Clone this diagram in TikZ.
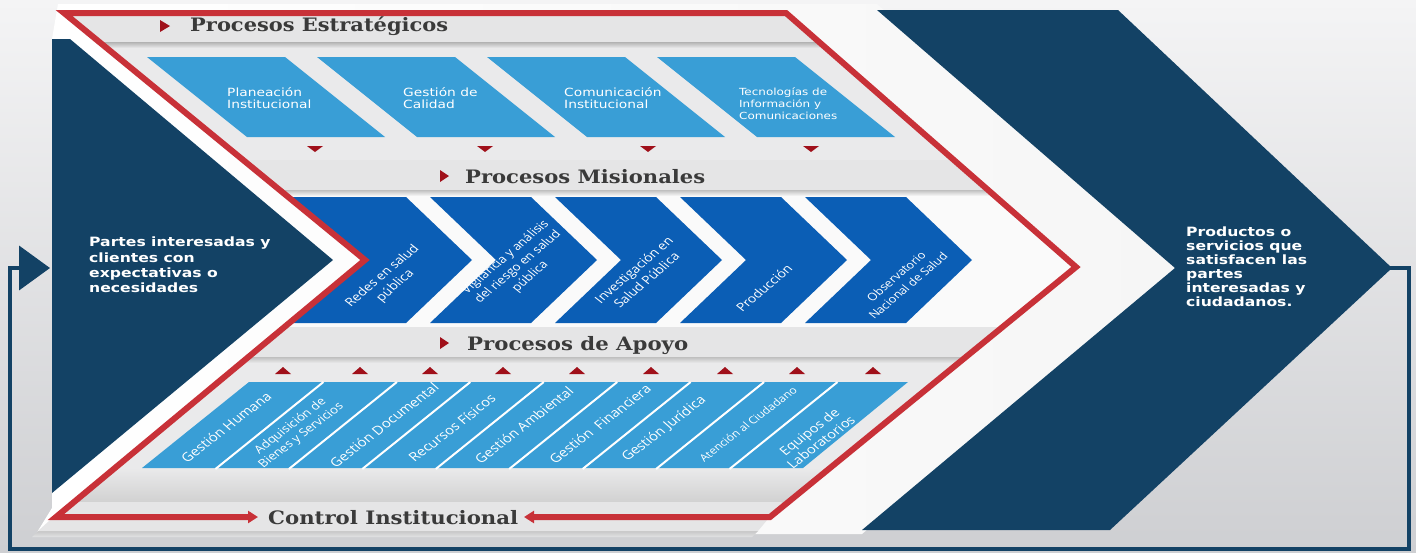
\documentclass[tikz,border=0pt]{standalone}
\usepackage{fontspec}
\setmainfont{DejaVu Sans}
\newfontfamily\hdrfont{DejaVu Serif}
\newfontfamily\segfont{Open Sans}
\usetikzlibrary{arrows.meta}
\definecolor{bgtop}{RGB}{244,244,245}
\definecolor{bgbot}{RGB}{206,207,210}
\definecolor{innerc}{RGB}{234,234,235}
\definecolor{barg}{RGB}{229,229,230}
\definecolor{htxt}{RGB}{58,58,58}
\definecolor{navy}{RGB}{19,66,101}
\definecolor{lblue}{RGB}{57,158,214}
\definecolor{mblue}{RGB}{11,94,181}
\definecolor{rline}{RGB}{200,49,56}
\definecolor{dred}{RGB}{160,16,26}
\newcommand{\wide}[2][1.22]{\scalebox{#1}[1]{\begin{tabular}{@{}l@{}}#2\end{tabular}}}
\newcommand{\hw}[2]{\resizebox{#1}{\height}{#2}}
\tikzset{
  redline/.style={draw=rline, line width=6pt, line join=miter},
  fbline/.style={draw=navy, line width=4pt, line join=miter},
  hdr/.style={inner sep=0, text=htxt, anchor=base west, font=\hdrfont\bfseries\fontsize{18.5}{20}\selectfont},
  stxt/.style={inner sep=0, text=white, anchor=west, font=\fontsize{11.3}{12}\selectfont},
  mtxt/.style={inner sep=0, text=white, align=center, rotate=46, transform shape, font=\segfont\fontsize{11.5}{14.5}\selectfont},
  atxt/.style={inner sep=0, text=white, align=center, rotate=43, transform shape, font=\segfont\fontsize{12.2}{13.5}\selectfont},
  bigtxt/.style={inner sep=0, text=white, anchor=north west},
  marker/.style={fill=dred},
}
\begin{document}
\begin{tikzpicture}[x=1pt,y=-1pt]
\useasboundingbox (0,0) rectangle (1416,552);
% background
\shade[top color=bgtop, bottom color=bgbot] (0,0) rectangle (1416,552);
% central light band
\shade[left color=white, right color=white!93!gray] (58,4) -- (877,4) -- (1175,268) -- (862,534) -- (36,534) -- (52,508) -- (52,39) -- cycle;
% big dark chevrons
\fill[navy] (52,39) -- (70,39) -- (333,260) -- (52,493) -- cycle;
\fill[navy] (877,10) -- (1118,10) -- (1392,268) -- (1110,530) -- (862,530) -- (1175,268) -- cycle;
% red outline corners
\coordinate (r1) at (64,13);
\coordinate (r2) at (786,13);
\coordinate (r3) at (1076,267);
\coordinate (r4) at (770,517);
\coordinate (r5) at (56,517);
\coordinate (r6) at (365,260);
\coordinate (ca) at (258,517);
\coordinate (cb) at (524,517);
\fill[innerc] (r1) -- (r2) -- (r3) -- (r4) -- (r5) -- (r6) -- cycle;
\begin{scope}
  \clip (r1) -- (r2) -- (r3) -- (r4) -- (r5) -- (r6) -- cycle;
  \fill[white!96!gray] (0,190) rectangle (1100,328);
  \shade[top color=black!30, bottom color=innerc] (0,42) rectangle (1100,48);
  \fill[barg] (0,15) rectangle (1100,42);
  \shade[top color=black!25, bottom color=white!96!gray] (0,190) rectangle (1100,196);
  \fill[barg] (0,160) rectangle (1100,190);
  \shade[top color=black!25, bottom color=innerc] (0,357) rectangle (1100,363);
  \fill[barg] (0,327) rectangle (1100,357);
  \shade[top color=innerc, bottom color=black!18] (0,468) rectangle (1100,502);
\end{scope}
% strategic boxes
\foreach \i in {0,...,3}
  \fill[lblue] ({147+170*\i},57) -- ++(138,0) -- ++(100,80) -- ++(-138,0) -- cycle;
\foreach \x in {315,485,648,811}
  \fill[marker] ({\x-8},146) -- ({\x+8},146) -- (\x,152) -- cycle;
% misional chevrons
\fill[mblue] (290,197) -- (406,197) -- (472,260) -- (406,323) -- (292,323) -- (368,260) -- cycle;
\foreach \a in {430,555,680,805}
  \fill[mblue] (\a,197) -- ++(101,0) -- ++(66,63) -- ++(-66,63) -- ++(-101,0) -- ++(66,-63) -- cycle;
% support band
\fill[lblue] (142,468) -- (249,382) -- (908,382) -- (803,468) -- cycle;
\foreach \i in {1,...,8}
  \draw[white, line width=2pt] ({142+73.44*\i},469) -- ++(108,-87);
\foreach \x in {283,360,430,503,577,651,725,797,873}
  \fill[marker] ({\x-8},374) -- ({\x+8},374) -- (\x,367) -- cycle;
% control bar
\shade[top color=black!22, bottom color=bgbot!60!white] (38,531) -- (758,531) -- (752,537) -- (32,537) -- cycle;
\fill[barg] (38,531) -- (70,502) -- (782,502) -- (758,531) -- cycle;
% header markers
\fill[marker] (160,20) -- (170,26) -- (160,32) -- cycle;
\fill[marker] (440,170) -- (449,176) -- (440,182) -- cycle;
\fill[marker] (440,337) -- (449,343) -- (440,349) -- cycle;
% red outline
\draw[redline, {Triangle[length=10pt,width=12pt]}-{Triangle[length=10pt,width=12pt]}]
  (ca) -- (r5) -- (r6) -- (r1) -- (r2) -- (r3) -- (r4) -- (cb);
% feedback line
\coordinate (f0) at (1388,268);
\coordinate (f1) at (1409,268);
\coordinate (f2) at (1409,549);
\coordinate (f3) at (10,549);
\coordinate (f4) at (10,268);
\coordinate (f5) at (50,268);
\draw[fbline, -{Triangle[length=31pt,width=44pt]}] (f0) -- (f1) -- (f2) -- (f3) -- (f4) -- (f5);
% headers
\node[hdr] (hE) at (190,31.5) {\hw{258pt}{Procesos Estratégicos}};
\node[hdr] (hM) at (465,183) {\hw{240pt}{Procesos Misionales}};
\node[hdr] (hA) at (467,350) {\hw{221pt}{Procesos de Apoyo}};
\node[hdr] (hC) at (268,524) {\hw{250pt}{Control Institucional}};
% strategic texts
\node[stxt] (e1) at (227,99.6) {\wide{Planeación\\Institucional}};
\node[stxt] (e2) at (403,99.6) {\wide{Gestión de\\Calidad}};
\node[stxt] (e3) at (564,99.6) {\wide{Comunicación\\Institucional}};
\node[stxt, font=\fontsize{9.8}{12}\selectfont] (e4) at (739,104.6) {\wide{Tecnologías de\\Información y\\Comunicaciones}};
% rotated texts, stretched horizontally like the rest of the picture
\begin{scope}[xscale=1.22]
\node[mtxt] (m1) at ({389/1.22},281) {Redes en salud\\pública};
\node[mtxt, font=\segfont\fontsize{11}{14}\selectfont] (m2) at ({518/1.22},267) {Vigilancia y análisis\\del riesgo en salud\\pública};
\node[mtxt] (m3) at ({640/1.22},275) {Investigación en\\Salud Pública};
\node[mtxt] (m4) at ({764/1.22},288) {Producción};
\node[mtxt, font=\segfont\fontsize{10.5}{13.5}\selectfont] (m5) at ({902/1.22},281) {Observatorio\\Nacional de Salud};
\node[atxt] (s1) at ({226/1.22},427) {Gestión Humana};
\node[atxt, font=\segfont\fontsize{11}{13}\selectfont] (s2) at ({296/1.22},431) {Adquisición de\\Bienes y Servicios};
\node[atxt] (s3) at ({384/1.22},425) {Gestión Documental};
\node[atxt] (s4) at ({452/1.22},428) {Recursos Físicos};
\node[atxt] (s5) at ({524/1.22},425) {Gestión Ambiental};
\node[atxt] (s6) at ({600/1.22},424) {Gestión\ \ Financiera};
\node[atxt] (s7) at ({664/1.22},429) {Gestión Jurídica};
\node[atxt, font=\segfont\fontsize{10}{11}\selectfont] (s8) at ({748/1.22},424) {Atención al Ciudadano};
\node[atxt, font=\segfont\fontsize{12}{14}\selectfont] (s9) at ({815/1.22},437) {Equipos de\\Laboratorios};
\end{scope}
% side texts
\node[bigtxt, font=\bfseries\fontsize{12.8}{15.3}\selectfont] (inp) at (89,236) {\wide{Partes interesadas y\\clientes con\\expectativas o\\necesidades}};
\node[bigtxt, font=\bfseries\fontsize{12.8}{13.9}\selectfont] (out) at (1186,227) {\wide{Productos o\\servicios que\\satisfacen las\\partes\\interesadas y\\ciudadanos.}};
\end{tikzpicture}
\end{document}
